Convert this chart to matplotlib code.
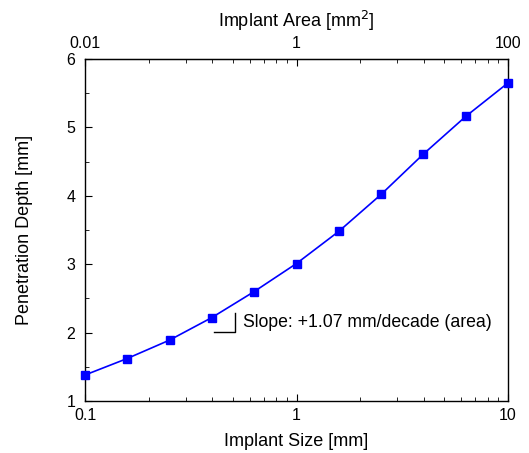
import numpy as np
import matplotlib
matplotlib.use('Agg')
import matplotlib.pyplot as plt
from matplotlib.ticker import FixedLocator, NullLocator, MultipleLocator, FuncFormatter

plt.rcParams['font.family'] = ['Liberation Sans', 'DejaVu Sans']

# implant size [mm] and penetration depth [mm]
size_mm = [0.1, 0.158, 0.251, 0.398, 0.631, 1.0, 1.585, 2.512, 3.981, 6.31, 10.0]
depth_mm = [1.38, 1.62, 1.89, 2.22, 2.60, 3.01, 3.48, 4.02, 4.61, 5.16, 5.65]
area_ticks = [0.01, 1, 100]
slope_text = 'Slope: +1.07 mm/decade (area)'

fig = plt.figure(figsize=(5.29, 4.53), dpi=100)
ax = fig.add_axes([0.1607, 0.1148, 0.7996, 0.755])

ax.plot(size_mm, depth_mm, color='#0000ff', lw=1.2, marker='s', markersize=5.5,
        markerfacecolor='#0000ff', markeredgecolor='#0000ff', zorder=3, clip_on=False)

ax.set_xscale('log')
ax.set_xlim(0.1, 10)
ax.set_ylim(1, 6)
ax.yaxis.set_major_locator(MultipleLocator(1))
ax.yaxis.set_minor_locator(MultipleLocator(0.5))
ax.xaxis.set_major_formatter(FuncFormatter(lambda v, p: '%g' % v))
ax.xaxis.set_minor_formatter(FuncFormatter(lambda v, p: ''))
ax.tick_params(which='both', direction='in', top=True, right=False, labelsize=11.5)
ax.tick_params(which='major', length=5)
ax.tick_params(which='minor', length=3)
ax.tick_params(axis='x', pad=5)
ax.tick_params(axis='y', pad=7)

ax.set_xlabel('Implant Size [mm]', fontsize=13, labelpad=7)
ax.set_ylabel('Penetration Depth [mm]', fontsize=13, labelpad=24)

# top axis: area = size^2
top = ax.secondary_xaxis('top', functions=(lambda s: s ** 2, lambda a: np.sqrt(a)))
top.xaxis.set_major_locator(FixedLocator(area_ticks))
top.xaxis.set_minor_locator(NullLocator())
top.xaxis.set_major_formatter(FuncFormatter(lambda v, p: '%g' % v))
top.tick_params(length=0, labelsize=11.5, pad=6)
top.set_xlabel('Implant Area [mm$^2$]', fontsize=13, labelpad=6)

# slope marker
ax.plot([0.409, 0.5135, 0.5135], [2.009, 2.009, 2.287], color='black', lw=1)
ax.text(0.56, 2.148, slope_text, fontsize=12.7, va='center', ha='left')

for sp in ax.spines.values():
    sp.set_linewidth(1.0)

fig.savefig('out.png', dpi=100)
